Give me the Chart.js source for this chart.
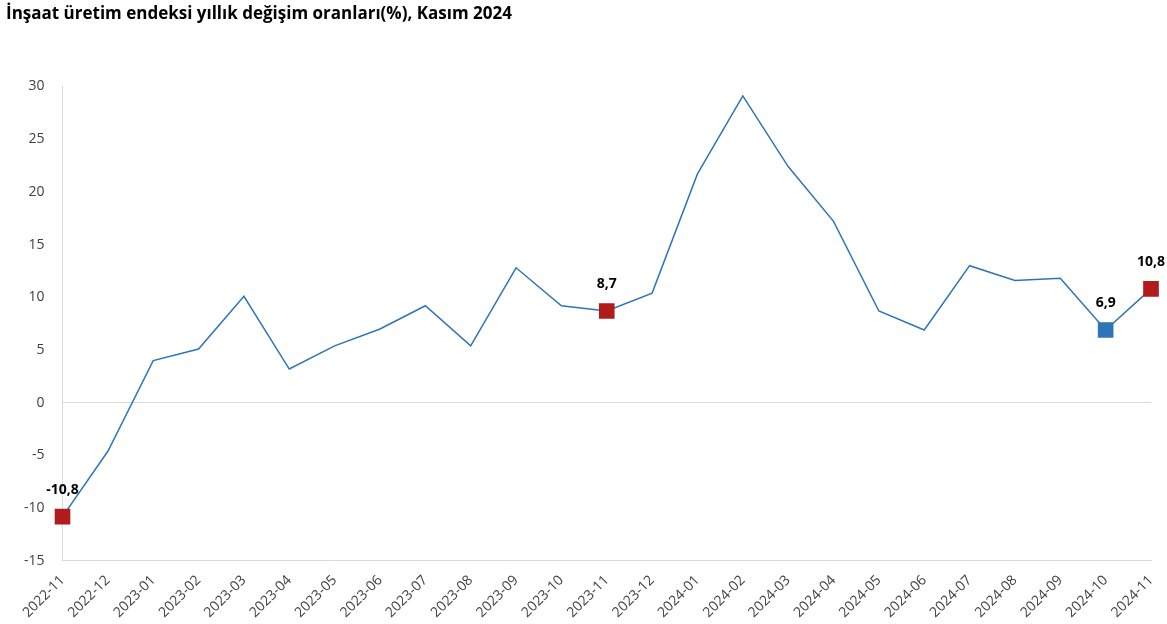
<!DOCTYPE html>
<html><head><meta charset="utf-8">
<script src="https://cdn.jsdelivr.net/npm/chart.js@4/dist/chart.umd.min.js"></script>
<style>body{margin:0;background:#fff}</style>
</head><body><canvas id="c" width="1167" height="624" style="width:1167px;height:624px"></canvas>
<script>
const categories=["2022-11","2022-12","2023-01","2023-02","2023-03","2023-04","2023-05","2023-06","2023-07","2023-08","2023-09","2023-10","2023-11","2023-12","2024-01","2024-02","2024-03","2024-04","2024-05","2024-06","2024-07","2024-08","2024-09","2024-10","2024-11"];
const values=[-10.8,-4.6,4.0,5.1,10.1,3.2,5.4,7.0,9.2,5.4,12.8,9.2,8.7,10.4,21.7,29.1,22.4,17.2,8.7,6.9,13.0,11.6,11.8,6.9,10.8];
const highlightRed=["2022-11","2023-11","2024-11"];
const highlightBlue=["2024-10"];
const yTicks=[30,25,20,15,10,5,0,-5,-10,-15];
const titleText="İnşaat üretim endeksi yıllık değişim oranları(%), Kasım 2024";

const RED="#b01c1c",BLUE="#2e75b6";
const isHi=c=>highlightRed.includes(c)||highlightBlue.includes(c);
const labelPlugin={id:"lbl",afterDatasetsDraw(ch){
  const ctx=ch.ctx,meta=ch.getDatasetMeta(0);
  ctx.save();ctx.font="bold 14px 'Open Sans', Arial";ctx.fillStyle="#000";ctx.textAlign="center";ctx.textBaseline="bottom";
  categories.forEach((c,i)=>{if(!isHi(c))return;const p=meta.data[i];
    ctx.fillText(values[i].toFixed(1).replace(".",","),p.x,p.y-20);});
  ctx.restore();}};
new Chart(document.getElementById("c"),{type:"line",
 data:{labels:categories,datasets:[{data:values,borderColor:BLUE,borderWidth:1.5,tension:0,
  pointStyle:"rect",
  pointRadius:categories.map(c=>isHi(c)?10:0),
  pointHoverRadius:categories.map(c=>isHi(c)?10:0),
  pointBackgroundColor:categories.map(c=>highlightRed.includes(c)?RED:BLUE),
  pointBorderColor:categories.map(c=>highlightRed.includes(c)?RED:BLUE)}]},
 options:{responsive:false,animation:false,devicePixelRatio:1,
  layout:{padding:{left:6,right:16,top:0,bottom:0}},
  plugins:{legend:{display:false},tooltip:{enabled:false},
   title:{display:true,text:titleText,align:"start",color:"#000",font:{size:17,weight:"bold",family:"'Open Sans', Arial"},padding:{top:4,bottom:62}}},
  scales:{
   x:{offset:false,grid:{display:false},border:{color:"#d9d9d9"},
      ticks:{color:"#404040",font:{size:14,family:"'Open Sans', Arial"},maxRotation:45,minRotation:45,autoSkip:false}},
   y:{min:-15,max:30,afterBuildTicks:a=>{a.ticks=yTicks.map(v=>({value:v}))},
      grid:{drawTicks:false,color:c=>c.tick.value===0?"#d9d9d9":"transparent"},border:{color:"#d9d9d9"},
      ticks:{color:"#404040",padding:18,font:{size:14,family:"'Open Sans', Arial"}}}}},
 plugins:[labelPlugin]});
</script></body></html>
